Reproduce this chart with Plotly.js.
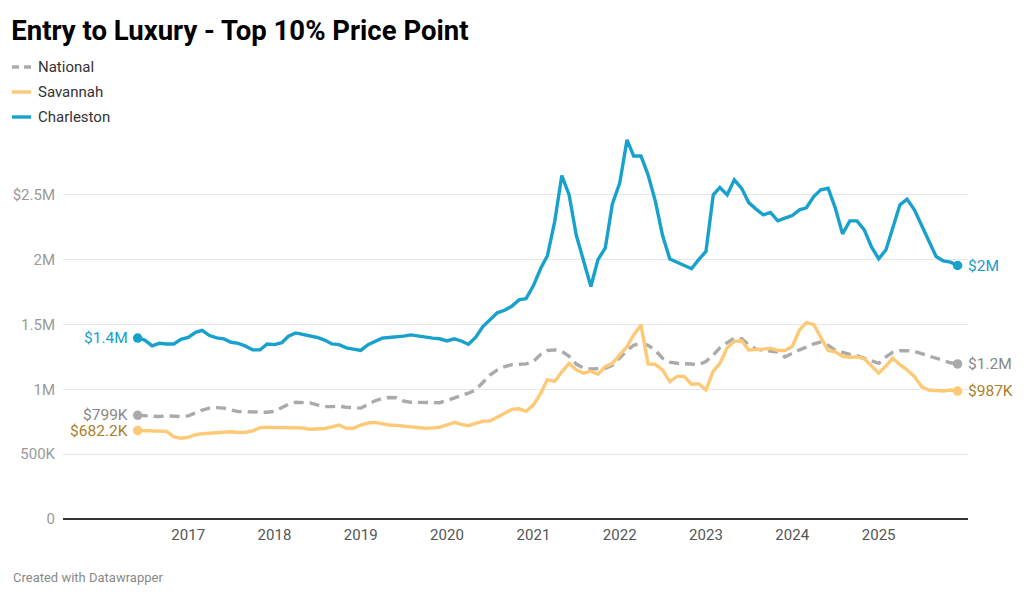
<!DOCTYPE html>
<html>
<head>
<meta charset="utf-8">
<script src="https://cdn.plot.ly/plotly-3.0.1.min.js"></script>
<style>
  html, body { margin: 0; padding: 0; background: #fff; }
  #chart { width: 1024px; height: 600px; }
</style>
</head>
<body>
<div id="chart"></div>
<script>
// Monthly series, June 2016 through December 2025 (values in $ millions)
const startYear = 2016;
const startMonth = 6;

const national = [
  0.80, 0.795, 0.79, 0.79, 0.795, 0.79, 0.79, 0.795, 0.82, 0.84,
  0.855, 0.859, 0.855, 0.84, 0.828, 0.828, 0.828, 0.828, 0.823, 0.83,
  0.86, 0.885, 0.90, 0.90, 0.895, 0.88, 0.867, 0.867, 0.87, 0.862,
  0.858, 0.855, 0.885, 0.91, 0.93, 0.937, 0.935, 0.91, 0.90, 0.90,
  0.90, 0.90, 0.897, 0.915, 0.932, 0.947, 0.97, 0.995, 1.05, 1.11,
  1.15, 1.175, 1.19, 1.196, 1.196, 1.215, 1.27, 1.30, 1.304, 1.293,
  1.255, 1.195, 1.165, 1.157, 1.158, 1.162, 1.185, 1.24, 1.30, 1.34,
  1.355, 1.34, 1.30, 1.24, 1.21, 1.201, 1.20, 1.195, 1.19, 1.215,
  1.265, 1.32, 1.36, 1.394, 1.39, 1.343, 1.31, 1.302, 1.295, 1.288,
  1.25, 1.28, 1.305, 1.325, 1.35, 1.365, 1.34, 1.303, 1.285, 1.27,
  1.26, 1.24, 1.215, 1.20, 1.25, 1.285, 1.297, 1.298, 1.292, 1.275,
  1.262, 1.242, 1.222, 1.205, 1.196
];

const savannah = [
  0.682, 0.681, 0.68, 0.679, 0.676, 0.633, 0.623, 0.63, 0.65, 0.658,
  0.663, 0.667, 0.671, 0.673, 0.667, 0.669, 0.68, 0.705, 0.707, 0.707,
  0.707, 0.707, 0.707, 0.702, 0.692, 0.693, 0.698, 0.71, 0.725, 0.70,
  0.70, 0.725, 0.74, 0.745, 0.735, 0.725, 0.722, 0.718, 0.71, 0.705,
  0.70, 0.703, 0.708, 0.725, 0.745, 0.73, 0.72, 0.737, 0.755, 0.756,
  0.785, 0.82, 0.845, 0.85, 0.83, 0.88, 0.97, 1.075, 1.062, 1.135,
  1.20, 1.15, 1.125, 1.14, 1.116, 1.175, 1.20, 1.265, 1.33, 1.42,
  1.497, 1.196, 1.192, 1.15, 1.06, 1.10, 1.10, 1.04, 1.043, 0.995,
  1.14, 1.20, 1.32, 1.37, 1.375, 1.304, 1.304, 1.31, 1.317, 1.30,
  1.299, 1.33, 1.458, 1.515, 1.50, 1.40, 1.299, 1.29, 1.255, 1.248,
  1.25, 1.235, 1.18, 1.125, 1.18, 1.24, 1.19, 1.15, 1.10, 1.02,
  0.995, 0.99, 0.987, 0.995, 0.987
];

const charleston = [
  1.395, 1.38, 1.335, 1.355, 1.35, 1.35, 1.385, 1.40, 1.44, 1.455,
  1.415, 1.397, 1.389, 1.363, 1.355, 1.333, 1.304, 1.304, 1.35, 1.345,
  1.36, 1.41, 1.435, 1.425, 1.415, 1.40, 1.38, 1.35, 1.345, 1.32,
  1.31, 1.30, 1.345, 1.37, 1.395, 1.40, 1.402, 1.41, 1.42, 1.41,
  1.40, 1.395, 1.39, 1.373, 1.389, 1.373, 1.347, 1.40, 1.484, 1.54,
  1.59, 1.61, 1.64, 1.69, 1.70, 1.80, 1.934, 2.03, 2.294, 2.649,
  2.50, 2.19, 1.98, 1.793, 2.0, 2.09, 2.43, 2.59, 2.924, 2.80,
  2.80, 2.654, 2.45, 2.19, 2.005, 1.98, 1.955, 1.93, 2.0, 2.063,
  2.50, 2.557, 2.50, 2.616, 2.55, 2.44, 2.39, 2.346, 2.364, 2.30,
  2.32, 2.34, 2.384, 2.40, 2.487, 2.539, 2.551, 2.40, 2.199, 2.299,
  2.299, 2.23, 2.10, 2.006, 2.076, 2.243, 2.423, 2.467, 2.384, 2.268,
  2.14, 2.024, 1.991, 1.981, 1.955
];

const seriesNames = ["National", "Savannah", "Charleston"];
const startLabels = ["$799K", "$682.2K", "$1.4M"];
const endLabels = ["$1.2M", "$987K", "$2M"];

const yTickVals = [0, 0.5, 1, 1.5, 2, 2.5];
const yTickText = ["0", "500K", "1M", "1.5M", "2M", "$2.5M"];
const xTickYears = [2017, 2018, 2019, 2020, 2021, 2022, 2023, 2024, 2025];

// ---- build month dates ----
function monthDates(n) {
  const out = [];
  for (let i = 0; i < n; i++) {
    const m0 = startMonth - 1 + i;
    const y = startYear + Math.floor(m0 / 12);
    const m = (m0 % 12) + 1;
    out.push(y + "-" + String(m).padStart(2, "0") + "-01");
  }
  return out;
}
const dates = monthDates(charleston.length);

const W = 1024, H = 600;
const M = { l: 63, r: 56, t: 130, b: 81 };
const pw = W - M.l - M.r, ph = H - M.t - M.b;
const px2x = px => (px - M.l) / pw;
const py2y = py => (H - M.b - py) / ph;

const lineColors = ["#aaaaaa", "#fdc976", "#18a1cd"];
const labelColors = ["#888888", "#a97f2c", "#1a9ec9"];
const values = [national, savannah, charleston];

const traces = [];
values.forEach((vals, k) => {
  traces.push({
    type: "scatter",
    mode: "lines",
    name: seriesNames[k],
    x: dates,
    y: vals,
    line: { color: lineColors[k], width: 3.4, dash: k === 0 ? "10px,6px" : "solid", shape: "linear" },
    hoverinfo: "skip",
    showlegend: false
  });
});
// endpoint dots
values.forEach((vals, k) => {
  traces.push({
    type: "scatter",
    mode: "markers",
    showlegend: false,
    x: [dates[0], dates[dates.length - 1]],
    y: [vals[0], vals[vals.length - 1]],
    marker: { color: lineColors[k], size: 9.5 },
    hoverinfo: "skip"
  });
});

const labelFont = k => ({ family: "Roboto, sans-serif", size: 15.5, color: labelColors[k] });
const annotations = [];
values.forEach((vals, k) => {
  annotations.push({
    x: dates[0], y: vals[0], xref: "x", yref: "y",
    text: startLabels[k], showarrow: false,
    xanchor: "right", yanchor: "middle", xshift: -8,
    font: labelFont(k)
  });
  annotations.push({
    x: dates[dates.length - 1], y: vals[vals.length - 1], xref: "x", yref: "y",
    text: endLabels[k], showarrow: false,
    xanchor: "left", yanchor: "middle", xshift: 8,
    font: labelFont(k)
  });
});

// manual legend (top-left)
const legendRows = [67, 92, 117];
const shapes = [];
seriesNames.forEach((name, k) => {
  const yy = py2y(legendRows[k]);
  if (k === 0) {
    shapes.push({ type: "line", xref: "paper", yref: "paper", x0: px2x(12), x1: px2x(19), y0: yy, y1: yy,
      line: { color: lineColors[k], width: 3.4 } });
    shapes.push({ type: "line", xref: "paper", yref: "paper", x0: px2x(24), x1: px2x(31), y0: yy, y1: yy,
      line: { color: lineColors[k], width: 3.4 } });
  } else {
    shapes.push({ type: "line", xref: "paper", yref: "paper", x0: px2x(12), x1: px2x(31), y0: yy, y1: yy,
      line: { color: lineColors[k], width: 3.4 } });
  }
  annotations.push({
    xref: "paper", yref: "paper", x: px2x(36), y: yy,
    xanchor: "left", yanchor: "middle", showarrow: false,
    text: name,
    font: { family: "Roboto, sans-serif", size: 15, color: "#333333" }
  });
});

annotations.push({
  xref: "paper", yref: "paper", x: px2x(11), y: py2y(577),
  xanchor: "left", yanchor: "middle", showarrow: false,
  text: "Created with Datawrapper",
  font: { family: "Roboto, sans-serif", size: 13, color: "#888888" }
});

const layout = {
  width: W, height: H,
  margin: M,
  paper_bgcolor: "#ffffff", plot_bgcolor: "#ffffff",
  font: { family: "Roboto, sans-serif" },
  title: {
    text: "<b>Entry to Luxury - Top 10% Price Point</b>",
    xref: "container", yref: "container", x: 0.011, y: 1 - 30 / H,
    xanchor: "left", yanchor: "middle",
    font: { family: "Roboto, sans-serif", size: 27.5, color: "#000000" }
  },
  showlegend: false,
  xaxis: {
    type: "date",
    range: ["2015-07-21", "2026-01-14"],
    tickvals: xTickYears.map(y => y + "-01-01"),
    ticktext: xTickYears.map(String),
    showgrid: false, zeroline: false, showline: false,
    ticks: "", ticklabelstandoff: 5,
    tickfont: { family: "Roboto, sans-serif", size: 15, color: "#555555" },
    fixedrange: true
  },
  yaxis: {
    range: [0, 3.0],
    tickvals: yTickVals, ticktext: yTickText,
    showgrid: true, gridcolor: "#e6e6e6", gridwidth: 1,
    zeroline: true, zerolinecolor: "#333333", zerolinewidth: 2,
    showline: false, ticks: "", ticklabelstandoff: 7,
    tickfont: { family: "Roboto, sans-serif", size: 15, color: "#999999" },
    fixedrange: true
  },
  shapes: shapes,
  annotations: annotations
};

Plotly.newPlot("chart", traces, layout, { displayModeBar: false, staticPlot: true });
</script>
</body>
</html>
